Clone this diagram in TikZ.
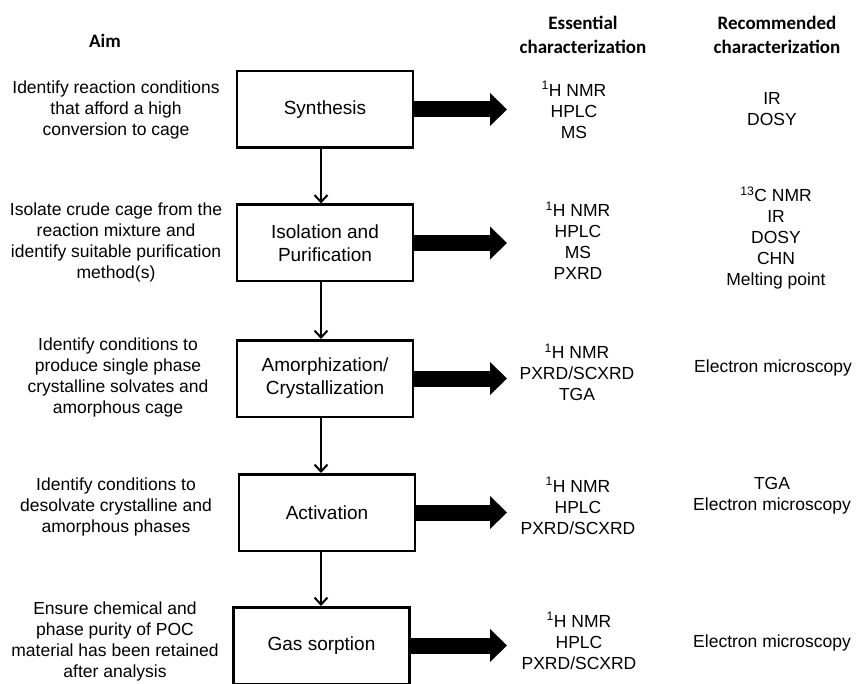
\documentclass[tikz,border=0pt]{standalone}
\usepackage{fontspec}
\setmainfont{Liberation Sans}
\newfontfamily\headfont{Carlito}
\usetikzlibrary{arrows.meta}

\begin{document}
\begin{tikzpicture}[x=1pt, y=-1pt,
    stage/.style={draw, line width=2.5pt, minimum width=176pt, minimum height=76.5pt,
        align=center, inner sep=0pt, font=\fontsize{19}{23}\selectfont},
    txt/.style={align=center, inner sep=0pt, font=\fontsize{17.5}{21}\selectfont},
    head/.style={align=center, inner sep=0pt, font=\headfont\bfseries\fontsize{19}{24}\selectfont},
    flow/.style={line width=2pt, -{Straight Barb[length=7pt, width=13pt]}},
    bigarrow/.style={line width=16pt, -{Triangle[length=17pt, width=33pt, line width=0pt]}}]

\useasboundingbox (0,0) rectangle (856,684);

% Column headers
\node[head] (haim) at (105,41) {Aim};
\node[head] (hess) at (583,35) {Essential\\characterization};
\node[head] (hrec) at (777,35) {Recommended\\characterization};

% Stage boxes
\node[stage] (synth) at (325,109.5) {Synthesis};
\node[stage] (iso) at (325,243) {Isolation and\\Purification};
\node[stage] (amor) at (325,378.5) {Amorphization/\\Crystallization};
\node[stage] (act) at (327,512.5) {Activation};
\node[stage] (gas) at (321.5,645.5) {Gas sorption};

% Aims
\node[txt] (aim1) at (116,110) {Identify reaction conditions\\that afford a high\\conversion to cage};
\node[txt] (aim2) at (116,242) {Isolate crude cage from the\\reaction mixture and\\identify suitable purification\\method(s)};
\node[txt] (aim3) at (118,377.5) {Identify conditions to\\produce single phase\\crystalline solvates and\\amorphous cage};
\node[txt] (aim4) at (116,507) {Identify conditions to\\desolvate crystalline and\\amorphous phases};
\node[txt] (aim5) at (115,641.5) {Ensure chemical and\\phase purity of POC\\material has been retained\\after analysis};

% Essential characterization
\node[txt] (ess1) at (574,110) {\textsuperscript{1}H NMR\\HPLC\\MS};
\node[txt] (ess2) at (578,241) {\textsuperscript{1}H NMR\\HPLC\\MS\\PXRD};
\node[txt] (ess3) at (577,372.5) {\textsuperscript{1}H NMR\\PXRD/SCXRD\\TGA};
\node[txt] (ess4) at (578,506) {\textsuperscript{1}H NMR\\HPLC\\PXRD/SCXRD};
\node[txt] (ess5) at (579,641) {\textsuperscript{1}H NMR\\HPLC\\PXRD/SCXRD};

% Recommended characterization
\node[txt] (rec1) at (772,109.5) {IR\\DOSY};
\node[txt] (rec2) at (776,238) {\textsuperscript{13}C NMR\\IR\\DOSY\\CHN\\Melting point};
\node[txt] (rec3) at (773,368) {Electron microscopy};
\node[txt] (rec4) at (772,496) {TGA\\Electron microscopy};
\node[txt] (rec5) at (772,643) {Electron microscopy};

% Workflow arrows
\coordinate (spine) at (321,0);
\coordinate (tip) at (507,0);
\foreach \a/\b in {synth/iso, iso/amor, amor/act, act/gas}
    \draw[flow] (\a.south -| spine) -- (\b.north -| spine);
\foreach \s in {synth, iso, amor, act, gas}
    \draw[bigarrow] (\s.east) -- (\s.east -| tip);

\end{tikzpicture}
\end{document}
